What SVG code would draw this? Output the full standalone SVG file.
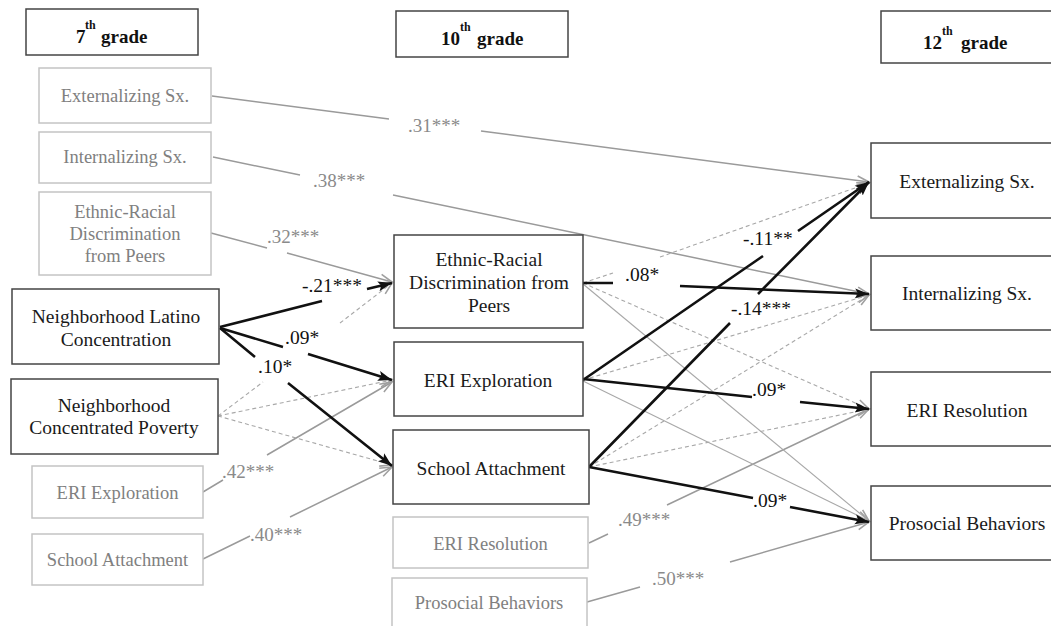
<svg xmlns="http://www.w3.org/2000/svg" width="1051" height="626" viewBox="0 0 1051 626">
<defs>
<style>
.hb{fill:#fff;stroke:#444;stroke-width:1.5}
.kb{fill:#fff;stroke:#444;stroke-width:1.5}
.gb{fill:#fff;stroke:#c4c4c4;stroke-width:1.5}
.hd{font-family:"Liberation Serif","Times New Roman",serif;font-weight:bold;font-size:19px;fill:#111}
.kt{font-family:"Liberation Serif","Times New Roman",serif;font-size:19.5px;fill:#1a1a1a;text-anchor:middle}
.gt{font-family:"Liberation Serif","Times New Roman",serif;font-size:18.5px;fill:#808080;text-anchor:middle}
.gl{font-family:"Liberation Serif","Times New Roman",serif;font-size:19px;fill:#8a8a8a}
.bl{font-family:"Liberation Serif","Times New Roman",serif;font-size:19.5px;fill:#111}
.b{fill:none;stroke:#111;stroke-width:2.6;marker-end:url(#ab)}
.g{fill:none;stroke:#9a9a9a;stroke-width:1.5;marker-end:url(#ag)}
.t{fill:none;stroke:#a8a8a8;stroke-width:1.1;marker-end:url(#ag)}
.d{fill:none;stroke:#a8a8a8;stroke-width:1.1;stroke-dasharray:4 3;marker-end:url(#ag)}
</style>
<marker id="ab" markerUnits="userSpaceOnUse" markerWidth="16" markerHeight="12" refX="14" refY="6" orient="auto">
<path d="M0,1 L14,6 L0,11 L3,6 z" fill="#111"/>
</marker>
<marker id="ag" markerUnits="userSpaceOnUse" markerWidth="16" markerHeight="12" refX="13" refY="6" orient="auto">
<path d="M1,1.5 L13,6 L1,10.5" fill="none" stroke="#a0a0a0" stroke-width="1.6"/>
</marker>
</defs>
<rect width="1051" height="626" fill="#fff"/>

<g id="headers">
<g id="h7"><rect class="hb" x="26" y="9" width="172" height="46"/>
<text class="hd"><tspan x="76" y="43">7</tspan><tspan x="85" y="29" font-size="12">th</tspan><tspan x="101" y="43">grade</tspan></text></g>
<g id="h10"><rect class="hb" x="396" y="11" width="172" height="46"/>
<text class="hd"><tspan x="441" y="45">10</tspan><tspan x="460" y="31" font-size="12">th</tspan><tspan x="477" y="45">grade</tspan></text></g>
<g id="h12"><rect class="hb" x="881" y="11" width="190" height="52"/>
<text class="hd"><tspan x="923" y="49">12</tspan><tspan x="942" y="35" font-size="12">th</tspan><tspan x="961" y="49">grade</tspan></text></g>
</g>

<g id="connectors">
<path class="g" d="M212,96 L389,119 M481,131 L869,182"/>
<path class="g" d="M213,157 L300,175 M393,195 L869,294"/>
<path class="g" d="M211,233 L267,248 M287,253 L392,282"/>
<path class="g" d="M203,492 L223,480 M267,455 L392,382"/>
<path class="g" d="M203,559 L250,536 M290,517 L392,467"/>
<path class="g" d="M589,543 L608,534 M667,505 L869,409"/>
<path class="g" d="M587,602 L640,587 M730,562 L869,522"/>
<path class="t" d="M583,381 L869,521"/>
<path class="t" d="M583,284 L869,521"/>

<path class="d" d="M218,416 L263,382 M340,323 L392,283"/>
<path class="d" d="M218,416 L392,380"/>
<path class="d" d="M218,416 L392,465"/>
<path class="d" d="M583,283 L613,273 M660,257 L869,183"/>
<path class="d" d="M583,283 L869,409"/>
<path class="d" d="M583,380 L869,295"/>
<path class="d" d="M589,467 L869,295"/>
<path class="d" d="M589,467 L869,409"/>

<path class="b" d="M220,327 L322,301 M367,289 L392,283"/>
<path class="b" d="M220,328 L283,347 M308,354 L392,380"/>
<path class="b" d="M220,328 L255,357 M288,383 L392,466"/>
<path class="b" d="M583,283 L613,283 M680,286 L869,294"/>
<path class="b" d="M583,380 L763,256 M798,231 L869,182"/>
<path class="b" d="M589,467 L730,323 M758,294 L869,182"/>
<path class="b" d="M583,379 L752,397 M800,402 L869,409"/>
<path class="b" d="M589,467 L753,498 M790,507 L869,522"/>

<text class="gl" x="408" y="132">.31***</text>
<text class="gl" x="313" y="187">.38***</text>
<text class="gl" x="267" y="243">.32***</text>
<text class="gl" x="222" y="478">.42***</text>
<text class="gl" x="250" y="541">.40***</text>
<text class="gl" x="618" y="526">.49***</text>
<text class="gl" x="652" y="585">.50***</text>
<text class="bl" x="302" y="292">-.21***</text>
<text class="bl" x="285" y="344">.09*</text>
<text class="bl" x="258" y="373">.10*</text>
<text class="bl" x="625" y="281">.08*</text>
<text class="bl" x="743" y="245">-.11**</text>
<text class="bl" x="731" y="315">-.14***</text>
<text class="bl" x="752" y="396">.09*</text>
<text class="bl" x="753" y="507">.09*</text>
</g>

<g id="n7_ext"><rect class="gb" x="39" y="68" width="172" height="55"/><text class="gt" x="125" y="102">Externalizing Sx.</text></g>
<g id="n7_int"><rect class="gb" x="39" y="132" width="172" height="51"/><text class="gt" x="125" y="163">Internalizing Sx.</text></g>
<g id="n7_erd"><rect class="gb" x="39" y="192" width="172" height="83"/><text class="gt"><tspan x="125" y="218">Ethnic-Racial</tspan><tspan x="125" y="240">Discrimination</tspan><tspan x="125" y="262">from Peers</tspan></text></g>
<g id="n7_nlc"><rect class="kb" x="12" y="289" width="207" height="75"/><text class="kt"><tspan x="116" y="323">Neighborhood Latino</tspan><tspan x="116" y="346">Concentration</tspan></text></g>
<g id="n7_ncp"><rect class="kb" x="11" y="379" width="207" height="75"/><text class="kt"><tspan x="114" y="412">Neighborhood</tspan><tspan x="114" y="434">Concentrated Poverty</tspan></text></g>
<g id="n7_erie"><rect class="gb" x="32" y="466" width="171" height="52"/><text class="gt" x="117.5" y="499">ERI Exploration</text></g>
<g id="n7_sa"><rect class="gb" x="32" y="534" width="171" height="51"/><text class="gt" x="117.5" y="566">School Attachment</text></g>

<g id="n10_erd"><rect class="kb" x="394" y="235" width="189" height="93"/><text class="kt"><tspan x="489" y="266">Ethnic-Racial</tspan><tspan x="489" y="289">Discrimination from</tspan><tspan x="489" y="312">Peers</tspan></text></g>
<g id="n10_erie"><rect class="kb" x="394" y="342" width="189" height="74"/><text class="kt" x="488" y="387">ERI Exploration</text></g>
<g id="n10_sa"><rect class="kb" x="393" y="430" width="196" height="74"/><text class="kt" x="491" y="475">School Attachment</text></g>
<g id="n10_eris"><rect class="gb" x="393" y="517" width="195" height="51"/><text class="gt" x="490.5" y="550">ERI Resolution</text></g>
<g id="n10_pro"><rect class="gb" x="392" y="578" width="195" height="60"/><text class="gt" x="489" y="609">Prosocial Behaviors</text></g>

<g id="n12_ext"><rect class="kb" x="871" y="143" width="200" height="75"/><text class="kt" x="967" y="188">Externalizing Sx.</text></g>
<g id="n12_int"><rect class="kb" x="871" y="256" width="200" height="74"/><text class="kt" x="967" y="300">Internalizing Sx.</text></g>
<g id="n12_eris"><rect class="kb" x="871" y="372" width="200" height="74"/><text class="kt" x="967" y="417">ERI Resolution</text></g>
<g id="n12_pro"><rect class="kb" x="871" y="486" width="200" height="74"/><text class="kt" x="967" y="530">Prosocial Behaviors</text></g>
</svg>
